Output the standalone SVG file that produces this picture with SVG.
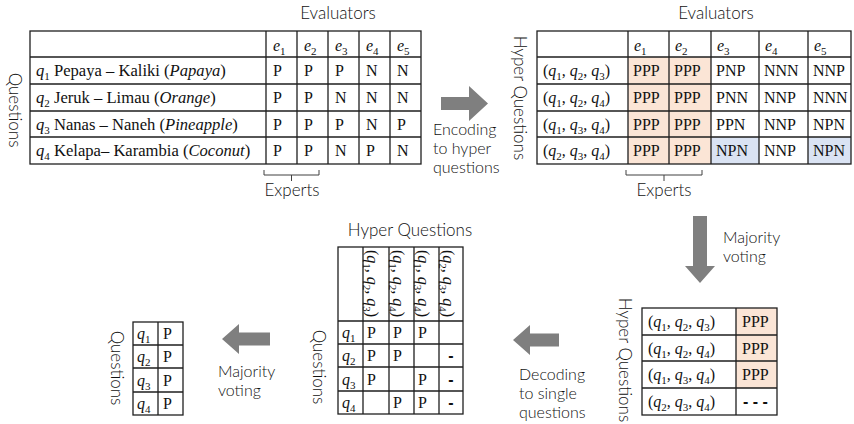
<svg xmlns="http://www.w3.org/2000/svg" width="854" height="424" viewBox="0 0 854 424">
  <style>
    .t { font-family: Lato, "Open Sans", "Liberation Sans", sans-serif; font-weight: 300; font-size: 17px; fill: #111; }
    .d { font-family: Lato, "Open Sans", "Liberation Sans", sans-serif; font-weight: 300; font-size: 16px; fill: #111; }
    .m { font-family: "Liberation Serif", "Times New Roman", serif; font-size: 16px; fill: #111; }
    .lbl { font-size: 16.6px; }
    .i { font-style: italic; }
    .s { font-size: 11px; font-style: normal; }
    .grid { stroke: #1f1f1f; stroke-width: 1.3; fill: none; }
    .brace { stroke: #404040; stroke-width: 1; fill: none; }
    .arrow { fill: #7f7f7f; }
    .dash { font-family: "Liberation Sans", Arial, sans-serif; font-weight: bold; font-size: 16px; fill: #111; }
    .peach { fill: #fbe5d6; }
    .blue { fill: #dae3f3; }
  </style>

  <!-- Single questions rated by five evaluators -->
  <g id="answers-table">
    <text class="t" x="338" y="19" text-anchor="middle">Evaluators</text>
    <text class="t" x="9" y="110" text-anchor="middle" transform="rotate(90 9 110)">Questions</text>
    <rect class="grid" x="30" y="31" width="391" height="133"/>
    <path class="grid" d="M30,57H421M30,84H421M30,111H421M30,137H421M266,31V164M297,31V164M328,31V164M359,31V164M390,31V164"/>
    <g class="m">
      <text x="273" y="51"><tspan class="i">e</tspan><tspan class="s" dy="4">1</tspan></text>
      <text x="304" y="51"><tspan class="i">e</tspan><tspan class="s" dy="4">2</tspan></text>
      <text x="335" y="51"><tspan class="i">e</tspan><tspan class="s" dy="4">3</tspan></text>
      <text x="366" y="51"><tspan class="i">e</tspan><tspan class="s" dy="4">4</tspan></text>
      <text x="397" y="51"><tspan class="i">e</tspan><tspan class="s" dy="4">5</tspan></text>

      <text class="lbl" x="36" y="76"><tspan class="i">q</tspan><tspan class="s" dy="4">1</tspan><tspan dy="-4"> Pepaya – Kaliki (</tspan><tspan class="i">Papaya</tspan>)</text>
      <text class="lbl" x="36" y="103"><tspan class="i">q</tspan><tspan class="s" dy="4">2</tspan><tspan dy="-4"> Jeruk – Limau (</tspan><tspan class="i">Orange</tspan>)</text>
      <text class="lbl" x="36" y="130"><tspan class="i">q</tspan><tspan class="s" dy="4">3</tspan><tspan dy="-4"> Nanas – Naneh (</tspan><tspan class="i">Pineapple</tspan>)</text>
      <text class="lbl" x="36" y="156"><tspan class="i">q</tspan><tspan class="s" dy="4">4</tspan><tspan dy="-4"> Kelapa– Karambia (</tspan><tspan class="i">Coconut</tspan>)</text>

      <text x="273" y="76">P</text><text x="304" y="76">P</text><text x="335" y="76">P</text><text x="366" y="76">N</text><text x="397" y="76">N</text>
      <text x="273" y="103">P</text><text x="304" y="103">P</text><text x="335" y="103">N</text><text x="366" y="103">N</text><text x="397" y="103">N</text>
      <text x="273" y="130">P</text><text x="304" y="130">P</text><text x="335" y="130">P</text><text x="366" y="130">N</text><text x="397" y="130">P</text>
      <text x="273" y="156">P</text><text x="304" y="156">P</text><text x="335" y="156">N</text><text x="366" y="156">P</text><text x="397" y="156">N</text>
    </g>
    <path class="brace" d="M264,170V175H319V170M291.5,175V181"/>
    <text class="t" x="292" y="196" text-anchor="middle">Experts</text>
  </g>

  <!-- Hyper questions rated by five evaluators -->
  <g id="hyper-answers-table">
    <text class="t" x="716" y="19" text-anchor="middle">Evaluators</text>
    <text class="t" x="514" y="98" text-anchor="middle" transform="rotate(90 514 98)">Hyper Questions</text>
    <rect class="peach" x="628" y="57" width="83" height="107"/>
    <rect class="blue" x="711" y="137" width="48" height="27"/>
    <rect class="blue" x="808" y="137" width="43" height="27"/>
    <rect class="grid" x="537" y="31" width="314" height="133"/>
    <path class="grid" d="M537,57H851M537,84H851M537,111H851M537,137H851M628,31V164M669,31V164M711,31V164M759,31V164M808,31V164"/>
    <g class="m">
      <text x="634" y="51"><tspan class="i">e</tspan><tspan class="s" dy="4">1</tspan></text>
      <text x="675" y="51"><tspan class="i">e</tspan><tspan class="s" dy="4">2</tspan></text>
      <text x="717" y="51"><tspan class="i">e</tspan><tspan class="s" dy="4">3</tspan></text>
      <text x="765" y="51"><tspan class="i">e</tspan><tspan class="s" dy="4">4</tspan></text>
      <text x="814" y="51"><tspan class="i">e</tspan><tspan class="s" dy="4">5</tspan></text>

      <text x="543" y="76">(<tspan class="i">q</tspan><tspan class="s" dy="4">1</tspan><tspan dy="-4">, </tspan><tspan class="i">q</tspan><tspan class="s" dy="4">2</tspan><tspan dy="-4">, </tspan><tspan class="i">q</tspan><tspan class="s" dy="4">3</tspan><tspan dy="-4">)</tspan></text>
      <text x="543" y="103">(<tspan class="i">q</tspan><tspan class="s" dy="4">1</tspan><tspan dy="-4">, </tspan><tspan class="i">q</tspan><tspan class="s" dy="4">2</tspan><tspan dy="-4">, </tspan><tspan class="i">q</tspan><tspan class="s" dy="4">4</tspan><tspan dy="-4">)</tspan></text>
      <text x="543" y="130">(<tspan class="i">q</tspan><tspan class="s" dy="4">1</tspan><tspan dy="-4">, </tspan><tspan class="i">q</tspan><tspan class="s" dy="4">3</tspan><tspan dy="-4">, </tspan><tspan class="i">q</tspan><tspan class="s" dy="4">4</tspan><tspan dy="-4">)</tspan></text>
      <text x="543" y="156">(<tspan class="i">q</tspan><tspan class="s" dy="4">2</tspan><tspan dy="-4">, </tspan><tspan class="i">q</tspan><tspan class="s" dy="4">3</tspan><tspan dy="-4">, </tspan><tspan class="i">q</tspan><tspan class="s" dy="4">4</tspan><tspan dy="-4">)</tspan></text>

      <text x="633" y="76">PPP</text><text x="674" y="76">PPP</text><text x="716" y="76">PNP</text><text x="764" y="76">NNN</text><text x="813" y="76">NNP</text>
      <text x="633" y="103">PPP</text><text x="674" y="103">PPP</text><text x="716" y="103">PNN</text><text x="764" y="103">NNP</text><text x="813" y="103">NNN</text>
      <text x="633" y="130">PPP</text><text x="674" y="130">PPP</text><text x="716" y="130">PPN</text><text x="764" y="130">NNP</text><text x="813" y="130">NPN</text>
      <text x="633" y="156">PPP</text><text x="674" y="156">PPP</text><text x="716" y="156">NPN</text><text x="764" y="156">NNP</text><text x="813" y="156">NPN</text>
    </g>
    <path class="brace" d="M626,170V175H702V170M664,175V181"/>
    <text class="t" x="664" y="196" text-anchor="middle">Experts</text>
  </g>

  <!-- Majority vote per hyper question -->
  <g id="hyper-vote-table">
    <text class="t" x="619" y="360" text-anchor="middle" transform="rotate(90 619 360)">Hyper Questions</text>
    <rect class="peach" x="736" y="308" width="41" height="80"/>
    <rect class="grid" x="642" y="308" width="135" height="107"/>
    <path class="grid" d="M642,335H777M642,361H777M642,388H777M736,308V415"/>
    <g class="m">
      <text x="648" y="327">(<tspan class="i">q</tspan><tspan class="s" dy="4">1</tspan><tspan dy="-4">, </tspan><tspan class="i">q</tspan><tspan class="s" dy="4">2</tspan><tspan dy="-4">, </tspan><tspan class="i">q</tspan><tspan class="s" dy="4">3</tspan><tspan dy="-4">)</tspan></text>
      <text x="648" y="354">(<tspan class="i">q</tspan><tspan class="s" dy="4">1</tspan><tspan dy="-4">, </tspan><tspan class="i">q</tspan><tspan class="s" dy="4">2</tspan><tspan dy="-4">, </tspan><tspan class="i">q</tspan><tspan class="s" dy="4">4</tspan><tspan dy="-4">)</tspan></text>
      <text x="648" y="380">(<tspan class="i">q</tspan><tspan class="s" dy="4">1</tspan><tspan dy="-4">, </tspan><tspan class="i">q</tspan><tspan class="s" dy="4">3</tspan><tspan dy="-4">, </tspan><tspan class="i">q</tspan><tspan class="s" dy="4">4</tspan><tspan dy="-4">)</tspan></text>
      <text x="648" y="407">(<tspan class="i">q</tspan><tspan class="s" dy="4">2</tspan><tspan dy="-4">, </tspan><tspan class="i">q</tspan><tspan class="s" dy="4">3</tspan><tspan dy="-4">, </tspan><tspan class="i">q</tspan><tspan class="s" dy="4">4</tspan><tspan dy="-4">)</tspan></text>
      <text x="742" y="327">PPP</text>
      <text x="742" y="354">PPP</text>
      <text x="742" y="380">PPP</text>
    </g>
    <text class="dash" x="743" y="407">- - -</text>
  </g>

  <!-- Hyper question answers mapped back to single questions -->
  <g id="decode-table">
    <text class="t" x="410" y="236" text-anchor="middle">Hyper Questions</text>
    <text class="t" x="313" y="367" text-anchor="middle" transform="rotate(90 313 367)">Questions</text>
    <rect class="grid" x="338" y="247" width="125" height="167"/>
    <path class="grid" d="M338,321H463M338,344H463M338,367H463M338,391H463M363,247V414M389,247V414M414,247V414M439,247V414"/>
    <g class="m">
      <text x="367" y="250" transform="rotate(90 367 250)">(<tspan class="i">q</tspan><tspan class="s" dy="4">1</tspan><tspan dy="-4">, </tspan><tspan class="i">q</tspan><tspan class="s" dy="4">2</tspan><tspan dy="-4">, </tspan><tspan class="i">q</tspan><tspan class="s" dy="4">3</tspan><tspan dy="-4">)</tspan></text>
      <text x="393" y="250" transform="rotate(90 393 250)">(<tspan class="i">q</tspan><tspan class="s" dy="4">1</tspan><tspan dy="-4">, </tspan><tspan class="i">q</tspan><tspan class="s" dy="4">2</tspan><tspan dy="-4">, </tspan><tspan class="i">q</tspan><tspan class="s" dy="4">4</tspan><tspan dy="-4">)</tspan></text>
      <text x="418" y="250" transform="rotate(90 418 250)">(<tspan class="i">q</tspan><tspan class="s" dy="4">1</tspan><tspan dy="-4">, </tspan><tspan class="i">q</tspan><tspan class="s" dy="4">3</tspan><tspan dy="-4">, </tspan><tspan class="i">q</tspan><tspan class="s" dy="4">4</tspan><tspan dy="-4">)</tspan></text>
      <text x="443" y="250" transform="rotate(90 443 250)">(<tspan class="i">q</tspan><tspan class="s" dy="4">2</tspan><tspan dy="-4">, </tspan><tspan class="i">q</tspan><tspan class="s" dy="4">3</tspan><tspan dy="-4">, </tspan><tspan class="i">q</tspan><tspan class="s" dy="4">4</tspan><tspan dy="-4">)</tspan></text>

      <text x="342" y="338"><tspan class="i">q</tspan><tspan class="s" dy="4">1</tspan></text>
      <text x="342" y="361"><tspan class="i">q</tspan><tspan class="s" dy="4">2</tspan></text>
      <text x="342" y="385"><tspan class="i">q</tspan><tspan class="s" dy="4">3</tspan></text>
      <text x="342" y="408"><tspan class="i">q</tspan><tspan class="s" dy="4">4</tspan></text>

      <text x="367" y="338">P</text><text x="393" y="338">P</text><text x="418" y="338">P</text>
      <text x="367" y="361">P</text><text x="393" y="361">P</text>
      <text x="367" y="385">P</text><text x="418" y="385">P</text>
      <text x="393" y="408">P</text><text x="418" y="408">P</text>
    </g>
    <text class="dash" x="451" y="361" text-anchor="middle">-</text>
    <text class="dash" x="451" y="385" text-anchor="middle">-</text>
    <text class="dash" x="451" y="408" text-anchor="middle">-</text>
  </g>

  <!-- Final answer per single question -->
  <g id="final-table">
    <text class="t" x="111" y="368" text-anchor="middle" transform="rotate(90 111 368)">Questions</text>
    <rect class="grid" x="133" y="322" width="50" height="93"/>
    <path class="grid" d="M133,345H183M133,368H183M133,392H183M158,322V415"/>
    <g class="m">
      <text x="137" y="339"><tspan class="i">q</tspan><tspan class="s" dy="4">1</tspan></text>
      <text x="137" y="362"><tspan class="i">q</tspan><tspan class="s" dy="4">2</tspan></text>
      <text x="137" y="386"><tspan class="i">q</tspan><tspan class="s" dy="4">3</tspan></text>
      <text x="137" y="409"><tspan class="i">q</tspan><tspan class="s" dy="4">4</tspan></text>
      <text x="163" y="339">P</text>
      <text x="163" y="362">P</text>
      <text x="163" y="386">P</text>
      <text x="163" y="409">P</text>
    </g>
  </g>

  <!-- Process arrows between stages -->
  <g id="connectors">
    <path class="arrow" d="M441,97H469V86L488,103.5L469,121V110H441Z"/>
    <path class="arrow" d="M693,216H707V266H715L700,283L685,266H693Z"/>
    <path class="arrow" d="M559,333.5H530V325L513,340L530,355V346.5H559Z"/>
    <path class="arrow" d="M270,332.5H239V324L222,339L239,354V345.5H270Z"/>
  </g>

  <!-- Step captions -->
  <g id="captions">
    <text class="d" x="433" y="135">Encoding</text>
    <text class="d" x="433" y="154">to hyper</text>
    <text class="d" x="433" y="173">questions</text>
    <text class="d" x="723" y="243">Majority</text>
    <text class="d" x="723" y="262">voting</text>
    <text class="d" x="519" y="380">Decoding</text>
    <text class="d" x="519" y="399">to single</text>
    <text class="d" x="519" y="418">questions</text>
    <text class="d" x="218" y="377">Majority</text>
    <text class="d" x="218" y="396">voting</text>
  </g>
</svg>
